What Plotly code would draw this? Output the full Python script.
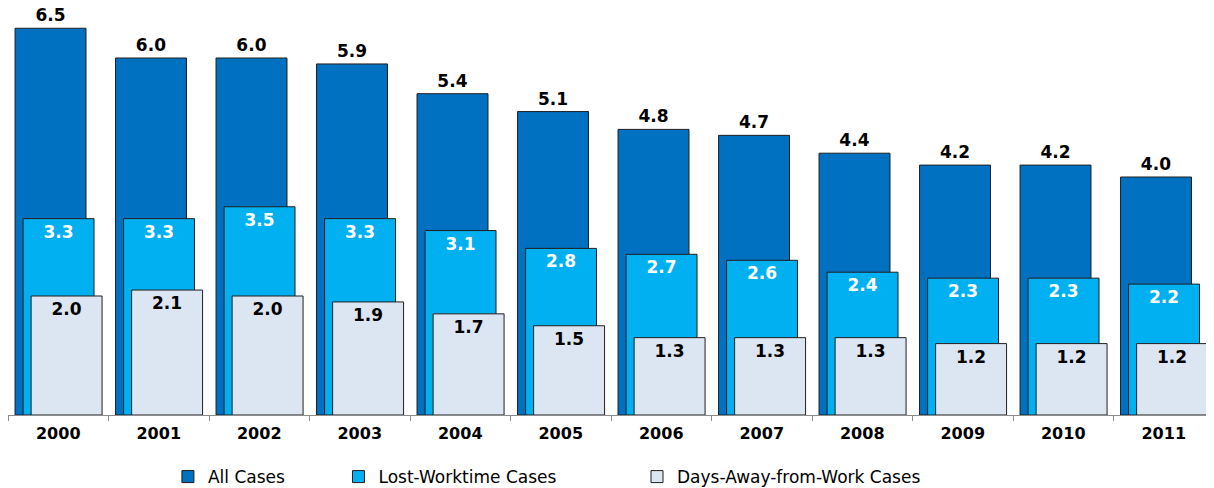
import plotly.graph_objects as go

years = ["2000", "2001", "2002", "2003", "2004", "2005", "2006", "2007", "2008", "2009", "2010", "2011"]
all_cases = [6.5, 6.0, 6.0, 5.9, 5.4, 5.1, 4.8, 4.7, 4.4, 4.2, 4.2, 4.0]
lost_worktime = [3.3, 3.3, 3.5, 3.3, 3.1, 2.8, 2.7, 2.6, 2.4, 2.3, 2.3, 2.2]
days_away = [2.0, 2.1, 2.0, 1.9, 1.7, 1.5, 1.3, 1.3, 1.3, 1.2, 1.2, 1.2]

FONT = "DejaVu Sans, sans-serif"
NB = "&nbsp;"
W = 0.706
line = dict(color="#1f1f1f", width=1)

fig = go.Figure()
fig.add_trace(go.Bar(
    x=years, y=all_cases, name="All Cases" + NB * 9, width=W, offset=-0.43,
    marker=dict(color="#0070C0", line=line),
    text=[f"{v:.1f}" for v in all_cases], textposition="outside",
    textfont=dict(family=FONT, size=17, color="black", weight="bold"), cliponaxis=False,
    constraintext="none",
))
fig.add_trace(go.Bar(
    x=years, y=lost_worktime, name="Lost-Worktime Cases" + NB * 14, width=W, offset=-0.35,
    marker=dict(color="#00B0F0", line=line),
    text=[f"{v:.1f}" for v in lost_worktime], textposition="inside", insidetextanchor="end",
    textfont=dict(family=FONT, size=17, color="white", weight="bold"),
    constraintext="none",
))
fig.add_trace(go.Bar(
    x=years, y=days_away, name="Days-Away-from-Work Cases", width=W, offset=-0.27,
    marker=dict(color="#DCE6F2", line=line),
    text=[f"{v:.1f}" for v in days_away], textposition="inside", insidetextanchor="end",
    textfont=dict(family=FONT, size=17, color="black", weight="bold"),
    constraintext="none",
))

fig.update_layout(
    width=1206, height=480,
    margin=dict(l=0, r=0, t=3, b=73, autoexpand=False),
    barmode="overlay",
    plot_bgcolor="white", paper_bgcolor="white",
    font=dict(family=FONT, color="black"),
    showlegend=True,
    legend=dict(orientation="h", x=0.1326, xanchor="left", y=-0.109, yanchor="top",
                font=dict(family=FONT, size=17, color="black"),
                itemwidth=30, tracegroupgap=0),
)
fig.update_xaxes(
    type="category", range=[-0.5, 11.5], showline=True, linecolor="#8c8c8c", linewidth=1,
    ticks="outside", tickson="boundaries", ticklen=5, tickcolor="#8c8c8c",
    tickfont=dict(family=FONT, size=16, color="black", weight="bold"),
    ticklabelstandoff=4,
    showgrid=False, automargin=False,
)
fig.update_yaxes(range=[0, 6.79], visible=False, showgrid=False, automargin=False)

fig.write_html("out.html")
